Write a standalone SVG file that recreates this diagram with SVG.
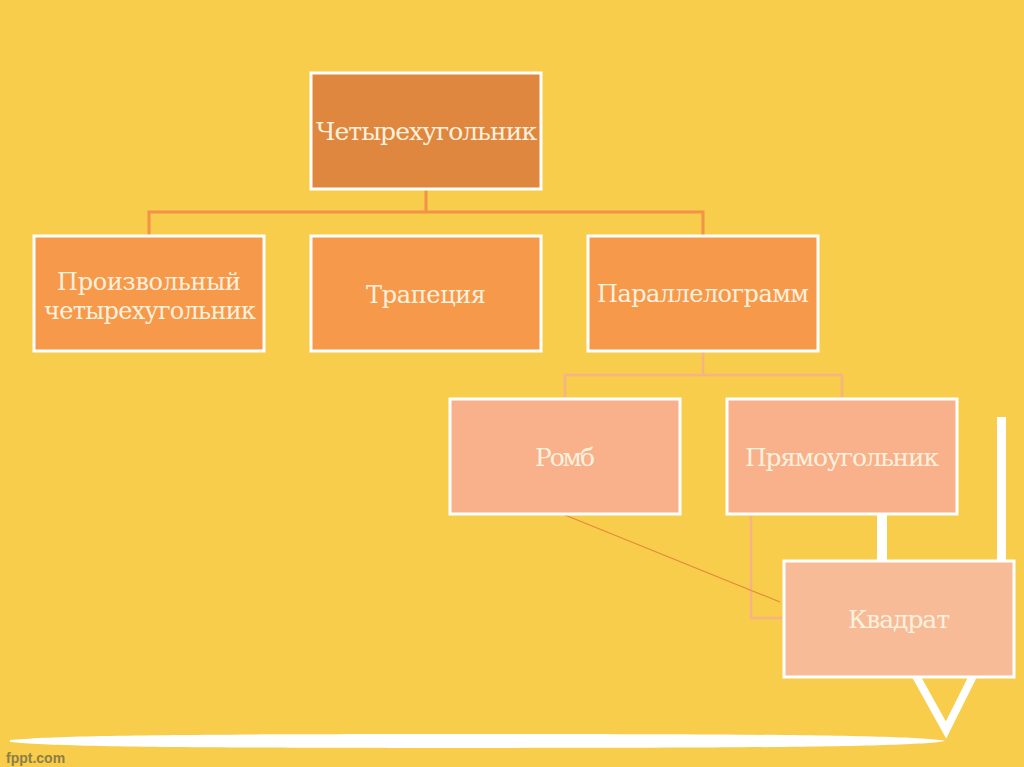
<svg xmlns="http://www.w3.org/2000/svg" width="1024" height="767" viewBox="0 0 1024 767">
<style>
.box{stroke:#FFFFFF;stroke-width:3}
.l1{fill:#DF873E}
.l2{fill:#F7994B}
.l3{fill:#F8B18A}
.l4{fill:#F7BB98}
text{font-family:"DejaVu Serif","Liberation Serif",serif;font-size:25px;fill:#FDF1DE;text-anchor:middle}
.s2{font-size:24px}
.c1{fill:none;stroke:#F39248;stroke-width:3}
.c2{fill:none;stroke:#F6B384;stroke-width:2.5}
.deco{fill:#FFFFFF}
</style>
<rect width="1024" height="767" fill="#F7CD4B"/>
<g id="decor">
<rect class="deco" x="997" y="417" width="9" height="145"/>
<rect class="deco" x="877" y="514" width="10" height="48"/>
<polyline points="916,676 946,730 973,676" fill="none" stroke="#FFFFFF" stroke-width="8"/>
<path class="deco" d="M10,740 C60,735 200,734 500,734 C800,734 920,736 945,741 C920,746 800,748 500,748 C200,748 60,747 10,742 Z"/>
</g>
<g id="connectors">
<path class="c1" d="M426,189 V212 M149,236 V212 H703 V236"/>
<path class="c2" d="M703,351 V375 M565,399 V375 H842 V399"/>
<path class="c2" d="M751,514 V618 H784"/>
<line x1="560" y1="513" x2="780" y2="602" stroke="#E38B3A" stroke-width="1.2"/>
</g>
<g id="n-quad"><rect class="box l1" x="311" y="73" width="230" height="116"/><text x="426.5" y="140" textLength="221" lengthAdjust="spacing">Четырехугольник</text></g>
<g id="n-arb"><rect class="box l2" x="34" y="236" width="230" height="115"/><text class="s2" x="149" y="290" textLength="184" lengthAdjust="spacing">Произвольный</text><text class="s2" x="150" y="319" textLength="212" lengthAdjust="spacing">четырехугольник</text></g>
<g id="n-trap"><rect class="box l2" x="311" y="236" width="230" height="115"/><text class="s2" x="426" y="303" textLength="120" lengthAdjust="spacing">Трапеция</text></g>
<g id="n-par"><rect class="box l2" x="588" y="236" width="230" height="115"/><text class="s2" x="703" y="302" textLength="212" lengthAdjust="spacing">Параллелограмм</text></g>
<g id="n-romb"><rect class="box l3" x="450" y="399" width="230" height="115"/><text x="565" y="466" textLength="60" lengthAdjust="spacing">Ромб</text></g>
<g id="n-rect"><rect class="box l3" x="727" y="399" width="230" height="115"/><text x="842" y="466" textLength="194" lengthAdjust="spacing">Прямоугольник</text></g>
<g id="n-sq"><rect class="box l4" x="784" y="561" width="230" height="116"/><text x="899" y="628" textLength="102" lengthAdjust="spacing">Квадрат</text></g>
<text x="6" y="763" style="font-family:'Liberation Sans',Arial,sans-serif;font-weight:bold;font-size:14px;fill:#8E7E47;text-anchor:start">fppt.com</text>
</svg>
